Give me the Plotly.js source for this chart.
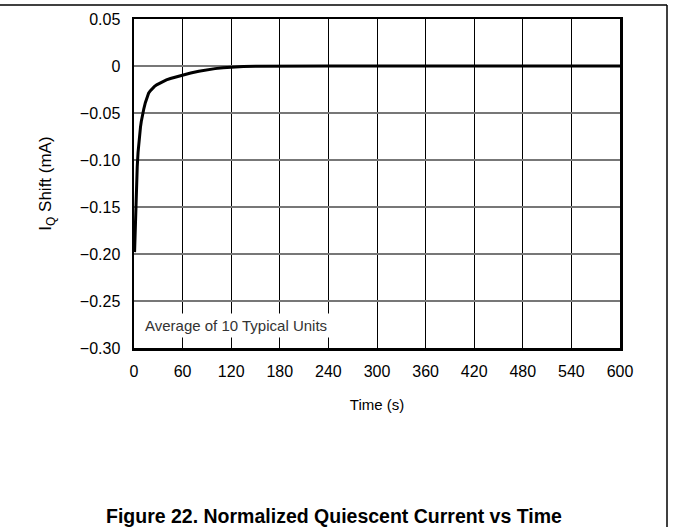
<!DOCTYPE html>
<html>
<head>
<meta charset="utf-8">
<script src="https://cdn.plot.ly/plotly-3.0.1.min.js"></script>
<style>
html,body{margin:0;padding:0;background:#fff;}
#chart{width:673px;height:527px;}
</style>
</head>
<body>
<div id="chart"></div>
<script>
// Time (s)
const timeS = [0.7, 1, 1.5, 2, 2.5, 3, 3.5, 4, 5, 6, 7, 8, 9, 10, 11, 12, 14, 16, 18, 20, 22, 25, 28, 32, 36, 40, 45, 50, 60, 70, 80, 90, 100, 110, 120, 135, 150, 165, 180, 240, 300, 360, 420, 480, 540, 600];
// IQ shift (mA)
const iqShift = [-0.198, -0.188, -0.170, -0.154, -0.140, -0.128, -0.117, -0.107, -0.092, -0.081, -0.072, -0.065, -0.059, -0.054, -0.050, -0.046, -0.039, -0.033, -0.029, -0.0265, -0.0245, -0.022, -0.020, -0.018, -0.0163, -0.0148, -0.0133, -0.0120, -0.0096, -0.0075, -0.0056, -0.0040, -0.0028, -0.0018, -0.0011, -0.0005, -0.0002, -0.0001, 0, 0, 0, 0, 0, 0, 0, 0];
const xTicks = [0, 60, 120, 180, 240, 300, 360, 420, 480, 540, 600];
const yTicks = [0.05, 0, -0.05, -0.10, -0.15, -0.20, -0.25, -0.30];
const yTickText = ['0.05', '0', '\u22120.05', '\u22120.10', '\u22120.15', '\u22120.20', '\u22120.25', '\u22120.30'];

const font = 'Liberation Sans, Arial, Helvetica, sans-serif';

const trace = {
  x: timeS, y: iqShift, type: 'scatter', mode: 'lines',
  line: {color: '#000', width: 3},
  hoverinfo: 'skip', showlegend: false
};

const L = 134, R = 620, T = 19, B = 348;
const W = R - L, H = B - T;
const px = v => (v - L) / W;
const py = v => (B - v) / H;

const layout = {
  width: 673, height: 527,
  margin: {l: L, r: 673 - R, t: T, b: 527 - B},
  paper_bgcolor: '#fff', plot_bgcolor: '#fff',
  font: {family: font, color: '#000', size: 16},
  xaxis: {
    range: [0, 600], tickvals: xTicks, ticktext: xTicks.map(String),
    showgrid: true, gridcolor: '#000', gridwidth: 1,
    showline: true, linecolor: '#000', linewidth: 2.5, mirror: true,
    zeroline: false, ticks: 'outside', ticklen: 7, tickcolor: 'rgba(0,0,0,0)',
    tickfont: {family: font, size: 16, color: '#000'},
    title: {text: 'Time (s)', font: {family: font, size: 15, color: '#000'}, standoff: 21}
  },
  yaxis: {
    range: [-0.30, 0.05], tickvals: yTicks, ticktext: yTickText,
    showgrid: true, gridcolor: '#777', gridwidth: 1.5,
    showline: true, linecolor: '#000', linewidth: 2.5, mirror: true,
    zeroline: false, ticks: 'outside', ticklen: 8, tickcolor: 'rgba(0,0,0,0)',
    tickfont: {family: font, size: 16, color: '#000'},
    title: {text: 'I<sub>Q</sub> Shift (mA)', font: {family: font, size: 17, color: '#000'}, standoff: 24}
  },
  shapes: [
    {type: 'line', xref: 'paper', yref: 'paper', x0: px(0), x1: px(667), y0: py(5), y1: py(5), line: {color: '#000', width: 1.5}},
    {type: 'line', xref: 'paper', yref: 'paper', x0: px(667), x1: px(667), y0: py(5), y1: py(527), line: {color: '#000', width: 1.5}}
  ],
  annotations: [
    {xref: 'paper', yref: 'paper', x: px(141), y: py(325), xanchor: 'left', yanchor: 'middle',
     text: 'Average of 10 Typical Units', showarrow: false, bgcolor: '#fff',
     font: {family: font, size: 15, color: '#333'}, borderpad: 3},
    {xref: 'paper', yref: 'paper', x: px(334), y: py(516), xanchor: 'center', yanchor: 'middle',
     text: '<b>Figure 22. Normalized Quiescent Current vs Time</b>', showarrow: false,
     font: {family: font, size: 19.5, color: '#000'}}
  ]
};

Plotly.newPlot('chart', [trace], layout, {staticPlot: true, displayModeBar: false});
</script>
</body>
</html>
